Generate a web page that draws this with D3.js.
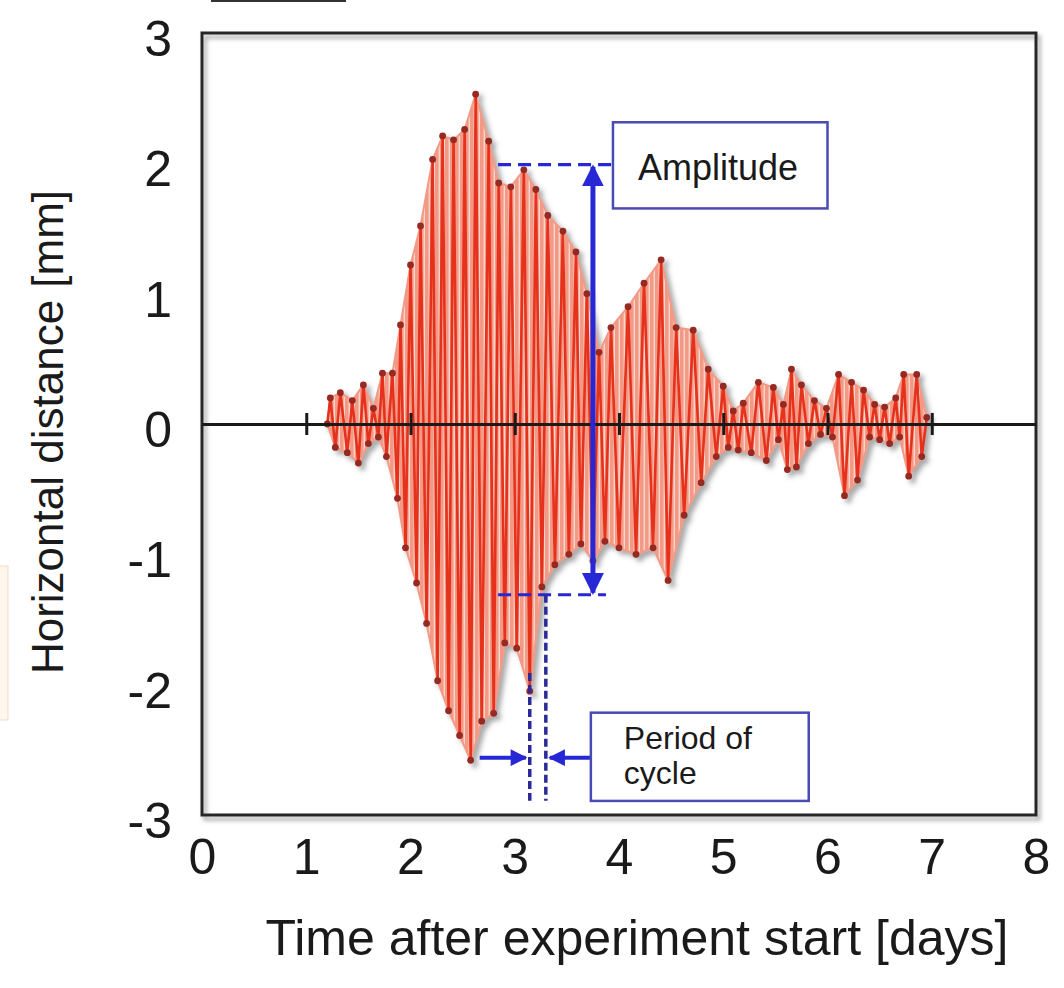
<!DOCTYPE html>
<html><head><meta charset="utf-8">
<script src="https://cdn.jsdelivr.net/npm/d3@7"></script>
<style>
body{margin:0;background:#fff}
svg{display:block}
text{font-family:"Liberation Sans",Arial,Helvetica,sans-serif;fill:#1a1a1a}
</style>
</head><body>
<svg id="chart" width="1064" height="988"></svg>
<script>
// ---- data ----
const times = [1.202,1.231,1.279,1.327,1.394,1.442,1.500,1.548,1.596,1.644,1.692,1.731,1.769,1.827,1.875,1.904,1.952,2.000,2.058,2.096,
  2.154,2.212,2.260,2.308,2.365,2.413,2.471,2.519,2.577,2.625,2.683,2.750,2.798,2.846,2.904,2.962,3.019,3.087,3.144,3.202,
  3.260,3.317,3.385,3.462,3.519,3.587,3.635,3.692,3.750,3.808,3.865,3.923,4.000,4.087,4.163,4.240,4.327,4.404,4.471,4.548,
  4.625,4.712,4.788,4.856,4.933,5.000,5.048,5.096,5.144,5.192,5.269,5.337,5.413,5.481,5.529,5.577,5.615,5.654,5.702,5.750,
  5.817,5.875,5.933,5.990,6.048,6.106,6.163,6.231,6.288,6.346,6.404,6.452,6.500,6.548,6.596,6.654,6.692,6.731,6.779,6.856,
  6.904,6.952];
const distances = [0.00,0.20,-0.18,0.24,-0.22,0.18,-0.30,0.30,-0.15,0.12,-0.10,0.39,-0.25,0.39,-0.57,0.76,-0.95,1.22,-1.22,1.52,
  -1.53,2.03,-1.97,2.21,-2.20,2.18,-2.39,2.26,-2.58,2.53,-2.28,2.17,-2.22,1.85,-1.68,1.82,-1.72,1.95,-2.05,1.80,
  -1.25,1.60,-1.08,1.48,-1.00,1.32,-0.92,1.00,-1.05,0.55,-0.90,0.74,-0.95,0.90,-1.00,1.08,-0.95,1.26,-1.20,0.74,
  -0.70,0.72,-0.45,0.42,-0.25,0.29,-0.18,0.10,-0.20,0.16,-0.22,0.32,-0.28,0.28,-0.12,0.15,-0.35,0.42,-0.33,0.30,
  -0.15,0.18,-0.08,0.12,-0.10,0.38,-0.55,0.32,-0.43,0.26,-0.10,0.15,-0.12,0.13,-0.15,0.20,-0.10,0.38,-0.40,0.38,
  -0.25,0.05];
const xTicks = [0,1,2,3,4,5,6,7,8];
const yTicks = [3,2,1,0,-1,-2,-3];
const zeroLineTicks = [1,2,3,4,5,6,7];
const xTitle = "Time after experiment start [days]";
const yTitle = "Horizontal distance [mm]";
const amplitudeLabel = ["Amplitude"];
const periodLabel = ["Period of","cycle"];
// annotation anchors in data units
const ampTop = 1.99, ampBottom = -1.31, ampArrowT = 3.75;
const ampDashStart = 2.84, ampDashEndTop = 3.94, ampDashEndBottom = 3.875;
const periodT1 = 3.144, periodT2 = 3.298, periodLeftTop = -1.91, periodBottom = -2.89, periodArrowY = -2.56;
const periodArrowLeftStart = 2.625, periodArrowRightStart = 3.73;
const ampBox = {t0:3.942, t1:6.0, v0:2.315, v1:1.654};
const perBox = {t0:3.73, t1:5.82, v0:-2.215, v1:-2.892};

// ---- chart ----
const svg = d3.select("#chart");
const m = {left:202, right:1036, top:33, bottom:815};
const x = d3.scaleLinear().domain([0,8]).range([m.left, m.right]);
const y = d3.scaleLinear().domain([-3,3]).range([m.bottom, m.top]);

const defs = svg.append("defs");
const sh = defs.append("filter").attr("id","shadow").attr("x","-10%").attr("y","-10%").attr("width","130%").attr("height","130%");
sh.append("feDropShadow").attr("dx",4).attr("dy",4).attr("stdDeviation",2.4).attr("flood-color","#555").attr("flood-opacity",0.5);
const sh2 = defs.append("filter").attr("id","shadow2").attr("x","-5%").attr("y","-5%").attr("width","115%").attr("height","115%");
sh2.append("feDropShadow").attr("dx",3).attr("dy",4).attr("stdDeviation",2).attr("flood-color","#666").attr("flood-opacity",0.6);
const pat = defs.append("pattern").attr("id","stripes").attr("patternUnits","userSpaceOnUse").attr("width",5).attr("height",10);
pat.append("rect").attr("width",5).attr("height",10).attr("fill","#f29a86");
pat.append("rect").attr("x",3.6).attr("width",1.4).attr("height",10).attr("fill","#fbd6cc");

// stray panel label box edge at very top, faint orange mark at left
svg.append("rect").attr("x",212).attr("y",-30).attr("width",133).attr("height",31)
  .attr("fill","none").attr("stroke","#333").attr("stroke-width",2);
svg.append("rect").attr("x",-2).attr("y",566).attr("width",10).attr("height",154)
  .attr("fill","#fff6ee").attr("stroke","#f6d9c2").attr("stroke-width",1);

// frame
svg.append("rect").attr("x",m.left).attr("y",m.top).attr("width",m.right-m.left).attr("height",m.bottom-m.top)
  .attr("fill","none").attr("stroke","#262626").attr("stroke-width",3).attr("filter","url(#shadow2)");

// y tick labels
const fmt = d => (d < 0 ? "-" + Math.abs(d) : String(d));
const gy = svg.append("g").attr("transform",`translate(${m.left},0)`)
  .call(d3.axisLeft(y).tickValues(yTicks).tickSize(0).tickPadding(30).tickFormat(fmt));
gy.select(".domain").remove();
gy.selectAll("text").attr("font-size",50).attr("font-family","Liberation Sans, Arial, sans-serif").attr("fill","#1a1a1a").attr("dy","0.45em");

// x tick labels
const gx = svg.append("g").attr("transform",`translate(0,${m.bottom})`)
  .call(d3.axisBottom(x).tickValues(xTicks).tickSize(0).tickPadding(23).tickFormat(fmt));
gx.select(".domain").remove();
gx.selectAll("text").attr("font-size",50).attr("font-family","Liberation Sans, Arial, sans-serif").attr("fill","#1a1a1a");

// titles
svg.append("text").attr("x",637).attr("y",955).attr("text-anchor","middle").attr("font-size",50).text(xTitle);
svg.append("text").attr("transform","translate(63,432) rotate(-90)").attr("text-anchor","middle").attr("font-size",44).text(yTitle);

// data
const pts = times.map((t,i)=>[t, distances[i]]);
const line = d3.line().x(d=>x(d[0])).y(d=>y(d[1]));
const upper = pts.filter(d=>d[1]>=0), lower = pts.filter(d=>d[1]<=0);
const envelope = upper.concat(lower.slice().reverse());
const gd = svg.append("g").attr("filter","url(#shadow)");
gd.append("path").attr("d",line(envelope)+"Z").attr("fill","url(#stripes)").attr("stroke","#f29a86").attr("stroke-width",2);
gd.append("path").attr("d",line(pts)).attr("fill","none").attr("stroke","#e6301a").attr("stroke-width",2.6).attr("stroke-linejoin","round");
gd.selectAll("circle").data(pts).join("circle")
  .attr("cx",d=>x(d[0])).attr("cy",d=>y(d[1])).attr("r",3.4).attr("fill","#962a22");

// zero line with ticks
const gz1 = svg.append("g").attr("transform",`translate(0,${y(0)})`)
  .call(d3.axisBottom(x).tickValues(zeroLineTicks).tickSizeInner(11).tickSizeOuter(0).tickFormat(""));
const gz2 = svg.append("g").attr("transform",`translate(0,${y(0)})`)
  .call(d3.axisTop(x).tickValues(zeroLineTicks).tickSizeInner(11).tickSizeOuter(0).tickFormat(""));
[gz1,gz2].forEach(g=>{
  g.select(".domain").attr("stroke","#1a1a1a").attr("stroke-width",3);
  g.selectAll(".tick line").attr("stroke","#1a1a1a").attr("stroke-width",3);
});

// annotations
const blue = "#2727d6", navy = "#2a2a9a", boxc = "#4a4ab4";
defs.append("marker").attr("id","ah").attr("viewBox","0 0 10 10").attr("refX",9).attr("refY",5)
  .attr("markerWidth",4.4).attr("markerHeight",4.4).attr("markerUnits","strokeWidth").attr("orient","auto-start-reverse")
  .append("path").attr("d","M0,0 L10,5 L0,10 z").attr("fill",blue);
defs.append("marker").attr("id","ah2").attr("viewBox","0 0 10 10").attr("refX",9).attr("refY",5)
  .attr("markerWidth",4.6).attr("markerHeight",4.2).attr("markerUnits","strokeWidth").attr("orient","auto")
  .append("path").attr("d","M0,0 L10,5 L0,10 z").attr("fill",blue);

svg.append("line").attr("x1",x(ampDashStart)).attr("x2",x(ampDashEndTop)).attr("y1",y(ampTop)).attr("y2",y(ampTop))
  .attr("stroke",blue).attr("stroke-width",3.2).attr("stroke-dasharray","13,7");
svg.append("line").attr("x1",x(ampDashStart)).attr("x2",x(ampDashEndBottom)).attr("y1",y(ampBottom)).attr("y2",y(ampBottom))
  .attr("stroke",blue).attr("stroke-width",3.2).attr("stroke-dasharray","13,7");
svg.append("line").attr("x1",x(ampArrowT)).attr("x2",x(ampArrowT)).attr("y1",y(ampTop)+2).attr("y2",y(ampBottom)-2)
  .attr("stroke",blue).attr("stroke-width",5).attr("marker-start","url(#ah)").attr("marker-end","url(#ah)");

svg.append("line").attr("x1",x(periodT1)).attr("x2",x(periodT1)).attr("y1",y(periodLeftTop)).attr("y2",y(periodBottom))
  .attr("stroke",navy).attr("stroke-width",3.5).attr("stroke-dasharray","8,4");
svg.append("line").attr("x1",x(periodT2)).attr("x2",x(periodT2)).attr("y1",y(ampBottom)).attr("y2",y(periodBottom))
  .attr("stroke",navy).attr("stroke-width",3.5).attr("stroke-dasharray","8,4");
svg.append("line").attr("x1",x(periodArrowLeftStart)+4).attr("x2",x(periodT1)-4).attr("y1",y(periodArrowY)).attr("y2",y(periodArrowY))
  .attr("stroke",blue).attr("stroke-width",4).attr("marker-end","url(#ah2)");
svg.append("line").attr("x1",x(periodArrowRightStart)).attr("x2",x(periodT2)+4).attr("y1",y(periodArrowY)).attr("y2",y(periodArrowY))
  .attr("stroke",blue).attr("stroke-width",4).attr("marker-end","url(#ah2)");

// boxes
svg.append("rect").attr("x",x(ampBox.t0)).attr("y",y(ampBox.v0)).attr("width",x(ampBox.t1)-x(ampBox.t0)).attr("height",y(ampBox.v1)-y(ampBox.v0))
  .attr("fill","#fff").attr("stroke",boxc).attr("stroke-width",2.5);
svg.append("text").attr("x",x(ampBox.t0)+25).attr("y",y(ampBox.v0)+58).attr("font-size",36).text(amplitudeLabel[0]);
svg.append("rect").attr("x",x(perBox.t0)).attr("y",y(perBox.v0)).attr("width",x(perBox.t1)-x(perBox.t0)).attr("height",y(perBox.v1)-y(perBox.v0))
  .attr("fill","#fff").attr("stroke",boxc).attr("stroke-width",2.5);
periodLabel.forEach((s,i)=>svg.append("text").attr("x",x(perBox.t0)+33).attr("y",y(perBox.v0)+36+i*35)
  .attr("font-size",32).text(s));
</script>
</body></html>
